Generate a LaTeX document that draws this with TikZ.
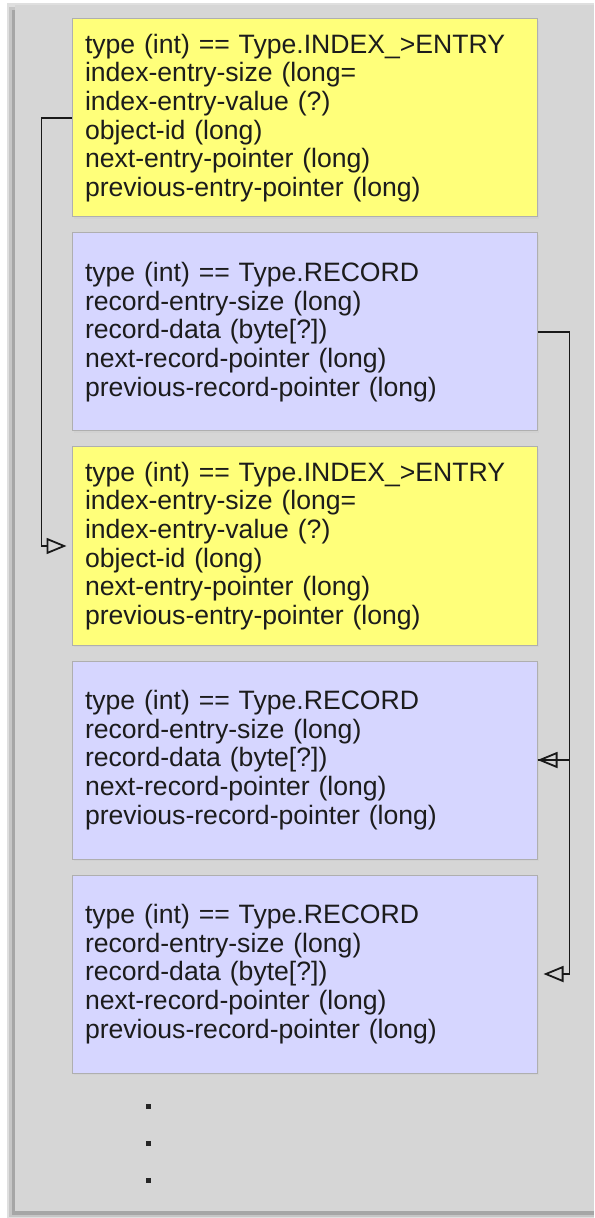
\documentclass[tikz,border=0pt]{standalone}
\usepackage{fontspec}
\setmainfont{Liberation Sans}
\usetikzlibrary{arrows.meta,shadows,positioning}
\definecolor{panelgray}{RGB}{214,214,214}
\definecolor{entryyellow}{RGB}{255,255,122}
\definecolor{recordblue}{RGB}{214,214,255}
\definecolor{boxline}{RGB}{175,175,175}
\definecolor{inktext}{RGB}{28,28,28}
\begin{document}
\begin{tikzpicture}[node distance=107pt, x=0.5pt, y=-0.5pt, >={Triangle[open,length=10pt,width=8pt]}]
      % Styles
      \tikzstyle{record} = [rectangle, draw=boxline, line width=0.5pt, minimum width=232.5pt, minimum height=99pt,
                          text width=219.5pt, inner xsep=6.5pt, inner ysep=0pt, align=left, text=inktext,
                          font=\fontsize{13.3}{14.3}\selectfont,
                          drop shadow={shadow xshift=0.8pt, shadow yshift=-0.8pt, fill=black!18, opacity=1}]
      \tikzstyle{entry} = [record, fill=entryyellow]
      \tikzstyle{data} = [record, fill=recordblue]
      \tikzstyle{ptr} = [->, line width=0.9pt, black!90]
      \useasboundingbox (0,0) rectangle (594,1218);
      % Panel
      \fill[gray!25] (7,3) rectangle (594,1218);
      \fill[gray!45] (9,7) rectangle (594,1217);
      \fill[gray!70] (12,10) rectangle (594,1215);
      \fill[panelgray] (15,5) rectangle (594,1211);
      % Nodes
      \node[entry] (entryA) at (304.5,118) {type (int) == Type.INDEX\_>ENTRY\\ index-entry-size (long=\\ index-entry-value (?)\\ object-id (long)\\ next-entry-pointer (long)\\ previous-entry-pointer (long)};
      \node[data, below of= entryA] (recordA) {type (int) == Type.RECORD\\ record-entry-size (long)\\ record-data (byte[?])\\ next-record-pointer (long)\\ previous-record-pointer (long)};
      \node[entry, below of= recordA] (entryB) {type (int) == Type.INDEX\_>ENTRY\\ index-entry-size (long=\\ index-entry-value (?)\\ object-id (long)\\ next-entry-pointer (long)\\ previous-entry-pointer (long)};
      \node[data, below of= entryB] (recordB) {type (int) == Type.RECORD\\ record-entry-size (long)\\ record-data (byte[?])\\ next-record-pointer (long)\\ previous-record-pointer (long)};
      \node[data, below of= recordB] (recordC) {type (int) == Type.RECORD\\ record-entry-size (long)\\ record-data (byte[?])\\ next-record-pointer (long)\\ previous-record-pointer (long)};
      % Dots
      \foreach \y in {1106,1143,1180}
        \fill[black!85] (145.5,\y-2.5) rectangle ++(5,5);
      % Arrows
      \draw[ptr, shorten >=2.5pt] (entryA.west) -- ++(-15pt,0) |- (entryB.west);
      \draw[ptr] (recordA.east) -- ++(16pt,0) |- (recordB.east);
      \draw[ptr, shorten >=3pt] (recordB.east) -- ++(16pt,0) |- (recordC.east);
  \end{tikzpicture}
\end{document}
